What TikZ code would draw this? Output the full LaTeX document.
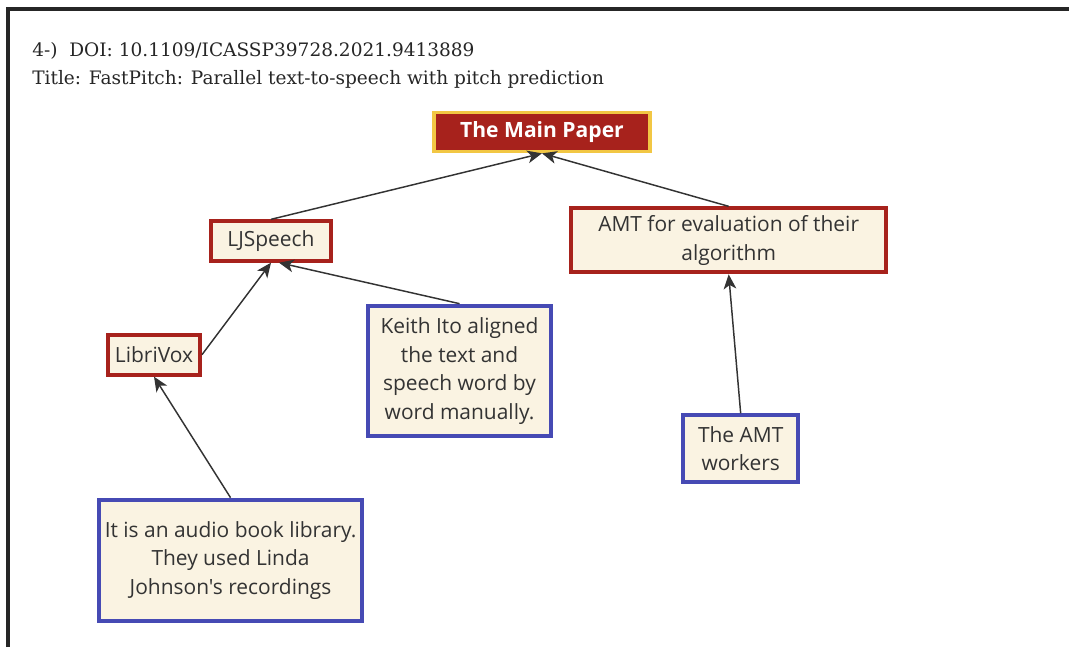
\documentclass[tikz,border=0pt]{standalone}
\usepackage{fontspec}
\setmainfont{DejaVu Serif}
\newfontfamily\boxfont{Open Sans}
\usetikzlibrary{arrows.meta, positioning}
\definecolor{cRed}{RGB}{167,34,28}
\definecolor{cCream}{RGB}{250,243,226}
\definecolor{cBlue}{RGB}{70,74,180}
\definecolor{cGold}{RGB}{242,199,68}
\definecolor{cDark}{RGB}{51,51,51}
\tikzset{
  basebox/.style={rectangle, align=center, fill=cCream, line width=3pt,
                  font=\boxfont\fontsize{15.7}{21.4}\selectfont, text=cDark,
                  inner sep=0pt},
  paperbox/.style={basebox, draw=cRed},
  notebox/.style={basebox, draw=cBlue},
  mainbox/.style={rectangle, draw=cGold, fill=cRed, line width=2.5pt,
                  text=white, font=\boxfont\bfseries\fontsize{15.8}{18}\selectfont,
                  minimum width=162pt, minimum height=29.5pt},
  arrow/.style={-{Stealth[length=11pt, width=9.5pt, inset=3pt]}, line width=1.1pt, color=cDark}
}
\begin{document}
\begin{tikzpicture}[x=0.75pt, y=-0.75pt]
  \useasboundingbox (0,0) rectangle (1069,647);

  % frame and header
  \draw[line width=2.3pt, color=black!85] (8,647) -- (8,9) -- (1069,9);
  \node[anchor=base west, align=left, inner sep=0pt, font=\fontsize{13.9}{20.3}\selectfont, text=black!85] (title) at (32,84)
      {4-)~ DOI: 10.1109/ICASSP39728.2021.9413889\\Title: FastPitch: Parallel text-to-speech with pitch prediction};

  % top
  \node[mainbox] (main) at (542,132) {The Main Paper};

  % middle row
  \node[paperbox, minimum width=90pt, minimum height=29.5pt,
        below=49.5pt of main, xshift=-203.25pt] (ljspeech) {LJSpeech};
  \node[paperbox, minimum width=236pt, minimum height=48pt,
        below=39.75pt of main, xshift=140pt] (amt)
      {AMT for evaluation of their\\algorithm};

  % lower boxes
  \node[paperbox, minimum width=69pt, minimum height=30pt,
        below=52.5pt of ljspeech, xshift=-87.75pt] (librivox) {LibriVox};
  \node[notebox, minimum width=137pt, minimum height=98pt,
        below=30.75pt of ljspeech, xshift=141.4pt] (keith)
      {Keith Ito aligned\\the text and\\speech word by\\word manually.};
  \node[notebox, minimum width=197pt, minimum height=91pt,
        below=90.75pt of librivox, xshift=57.4pt] (audiobook)
      {It is an audio book library.\\They used Linda\\Johnson's recordings};
  \node[notebox, minimum width=86pt, minimum height=50pt,
        below=104.25pt of amt, xshift=9pt] (workers)
      {The AMT\\workers};

  \draw[arrow] (ljspeech.north) -- (main.south);
  \draw[arrow] (amt.north) -- (main.south);
  \draw[arrow] (librivox.east) -- (ljspeech.south);
  \draw[arrow] (keith.north) -- ([xshift=6pt]ljspeech.south);
  \draw[arrow] (audiobook.north) -- (librivox.south);
  \draw[arrow] (workers.north) -- (amt.south);

\end{tikzpicture}
\end{document}
